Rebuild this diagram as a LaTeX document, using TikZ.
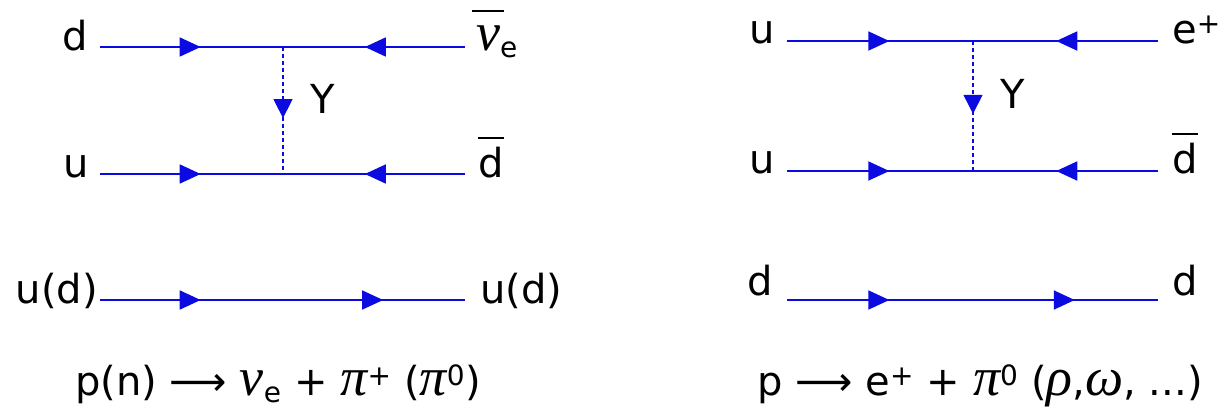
\documentclass[tikz,border=0pt]{standalone}
\usepackage{fontspec}
\setmainfont{DejaVu Sans}
\newfontfamily\grk{Liberation Serif}[Scale=1.35]
\usetikzlibrary{arrows.meta, decorations.markings}

\definecolor{lineblue}{RGB}{10,10,225}

\newcommand{\gl}[1]{{\grk\itshape #1}}
\newcommand{\ovl}[2][0em]{\setbox0\hbox{#2}\rlap{\kern-#1\rule[0.95em]{\dimexpr\wd0+#1+#1\relax}{0.05em}}\box0}

\tikzset{
    lbl/.style={inner sep=0pt, font=\fontsize{40}{44}\selectfont},
    eqn/.style={inner sep=0pt, font=\fontsize{40}{44}\selectfont},
    fermion/.style={color=lineblue, line width=1.8pt, postaction={decorate},
        decoration={markings, mark=at position 0.55 with {\arrow{Triangle[length=21pt, width=19pt]}}}},
    boson/.style={color=lineblue, line width=1.3pt, dash pattern=on 4pt off 3pt, postaction={decorate, solid},
        decoration={markings, mark=at position 0.56 with {\arrow{Triangle[length=19pt, width=19pt]}}}}
}

\begin{document}
\begin{tikzpicture}[x=1pt, y=-1pt]

    \useasboundingbox (0,0) rectangle (1222,410);

    % Left diagram: line ends and vertices
    \coordinate (la) at (100,47);
    \coordinate (lav) at (283,47);
    \coordinate (lb) at (465,47);
    \coordinate (lc) at (100,174);
    \coordinate (lcv) at (283,174);
    \coordinate (ld) at (465,174);
    \coordinate (le) at (100,300);
    \coordinate (lev) at (283,300);
    \coordinate (lf) at (465,300);

    % Left diagram: labels
    \node[lbl, anchor=base east] (ldin) at (88,50) {d};
    \node[lbl, anchor=base east] (luin) at (89,177) {u};
    \node[lbl, anchor=base east] (lspin) at (98,303) {u(d)};
    \node[lbl, anchor=base west] (lnuout) at (476,50) {\ovl[0.1em]{\gl{ν}}\textsubscript{e}};
    \node[lbl, anchor=base west] (ldout) at (478,177) {\ovl{d}};
    \node[lbl, anchor=base west] (lspout) at (480,303) {u(d)};
    \node[lbl, anchor=base west] (lY) at (310,113) {Y};

    % Left diagram: lines
    \draw[fermion] (la) -- (lav);
    \draw[fermion] (lb) -- (lav);
    \draw[fermion] (lc) -- (lcv);
    \draw[fermion] (ld) -- (lcv);
    \draw[fermion] (le) -- (lev);
    \draw[fermion] (lev) -- (lf);
    \draw[boson] (lav) -- (lcv);

    % Left decay
    \node[eqn, anchor=base] (leq) at (278,395) {p(n) ⟶ \gl{ν}\textsubscript{e} + \gl{π}\textsuperscript{+} (\gl{π}\textsuperscript{0})};

    % Right diagram: line ends and vertices
    \coordinate (ra) at (787,41);
    \coordinate (rav) at (973,41);
    \coordinate (rb) at (1158,41);
    \coordinate (rc) at (787,171);
    \coordinate (rcv) at (973,171);
    \coordinate (rd) at (1158,171);
    \coordinate (re) at (787,300);
    \coordinate (rev) at (973,300);
    \coordinate (rf) at (1158,300);

    % Right diagram: labels
    \node[lbl, anchor=base east] (ruin) at (775,43) {u};
    \node[lbl, anchor=base east] (ruin2) at (775,173) {u};
    \node[lbl, anchor=base east] (rspin) at (773,295) {d};
    \node[lbl, anchor=base west] (reout) at (1172,43) {e\textsuperscript{+}};
    \node[lbl, anchor=base west] (rdout) at (1172,173) {\ovl{d}};
    \node[lbl, anchor=base west] (rspout) at (1172,295) {d};
    \node[lbl, anchor=base west] (rY) at (1000,108) {Y};

    % Right diagram: lines
    \draw[fermion] (ra) -- (rav);
    \draw[fermion] (rb) -- (rav);
    \draw[fermion] (rc) -- (rcv);
    \draw[fermion] (rd) -- (rcv);
    \draw[fermion] (re) -- (rev);
    \draw[fermion] (rev) -- (rf);
    \draw[boson] (rav) -- (rcv);

    % Right decay
    \node[eqn, anchor=base] (req) at (980,395) {p ⟶ e\textsuperscript{+} + \gl{π}\textsuperscript{0} (\gl{ρ},\gl{ω}, ...)};

\end{tikzpicture}
\end{document}
